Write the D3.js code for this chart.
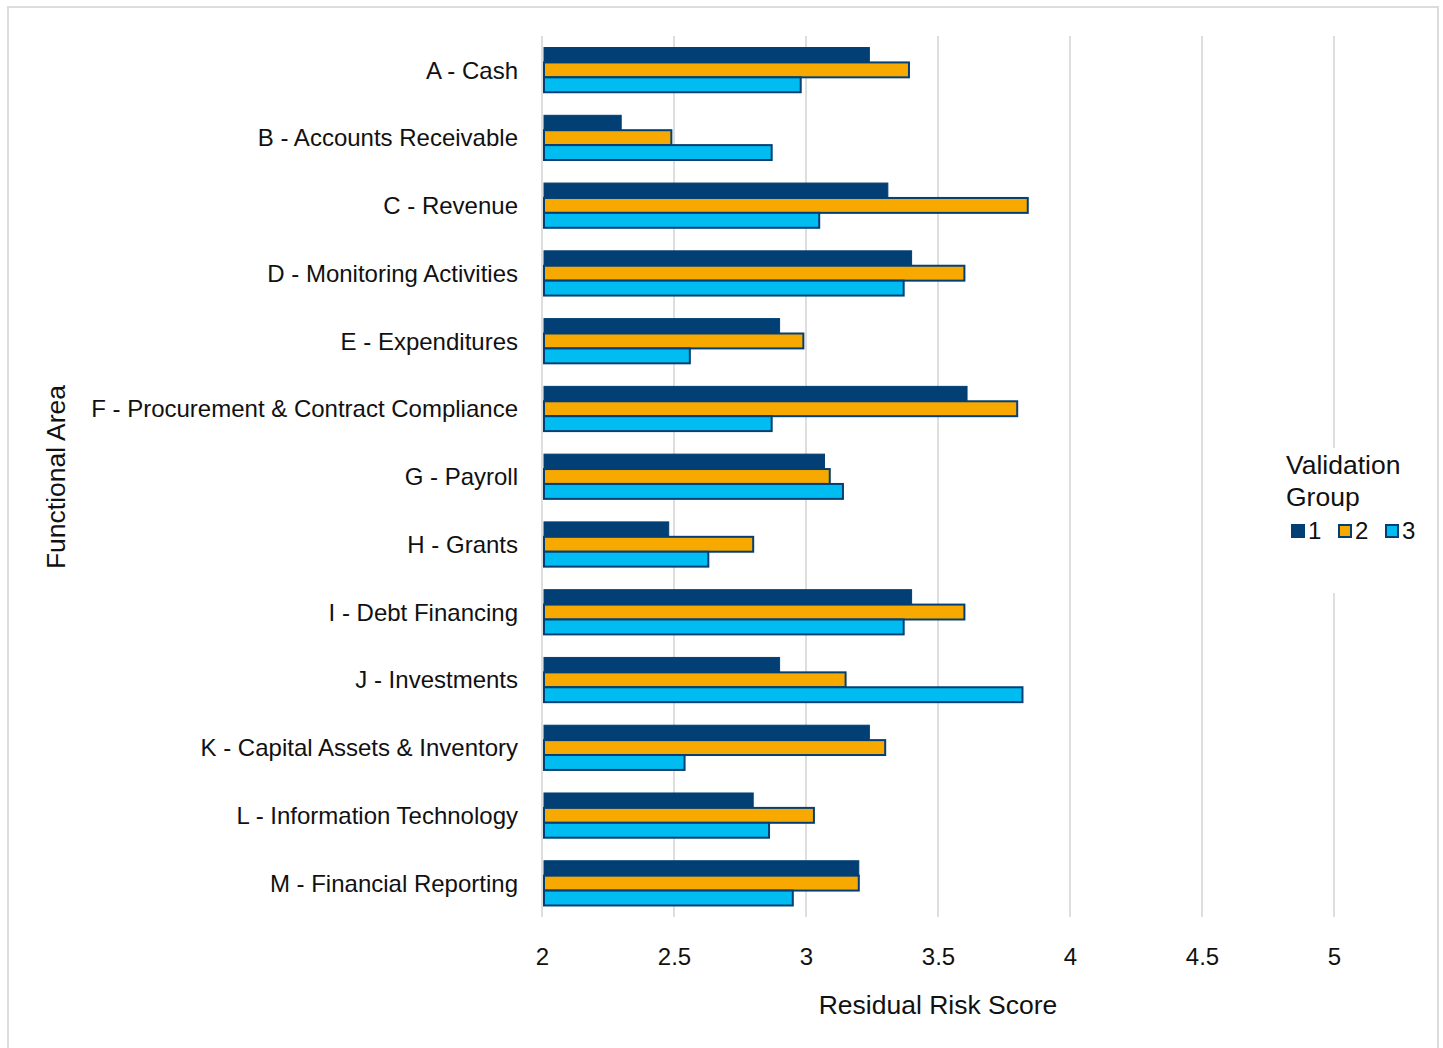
<!DOCTYPE html>
<html>
<head>
<meta charset="utf-8">
<script src="https://cdn.jsdelivr.net/npm/d3@7"></script>
<style>
  html, body { margin: 0; padding: 0; background: #fff; }
  svg { display: block; font-family: "Liberation Sans", Arial, sans-serif; }
</style>
</head>
<body>
<svg id="chart" width="1443" height="1048"></svg>
<script>
// Functional areas, top to bottom
const categories = [
  "A - Cash",
  "B - Accounts Receivable",
  "C - Revenue",
  "D - Monitoring Activities",
  "E - Expenditures",
  "F - Procurement & Contract Compliance",
  "G - Payroll",
  "H - Grants",
  "I - Debt Financing",
  "J - Investments",
  "K - Capital Assets & Inventory",
  "L - Information Technology",
  "M - Financial Reporting"
];

// Residual risk score per validation group
const group1 = [3.24, 2.30, 3.31, 3.40, 2.90, 3.61, 3.07, 2.48, 3.40, 2.90, 3.24, 2.80, 3.20];
const group2 = [3.39, 2.49, 3.84, 3.60, 2.99, 3.80, 3.09, 2.80, 3.60, 3.15, 3.30, 3.03, 3.20];
const group3 = [2.98, 2.87, 3.05, 3.37, 2.56, 2.87, 3.14, 2.63, 3.37, 3.82, 2.54, 2.86, 2.95];

const groupNames = ["1", "2", "3"];
const xTicks = [2, 2.5, 3, 3.5, 4, 4.5, 5];

const colors = { "1": "#023f74", "2": "#f8a900", "3": "#00bcf1" };
const outline = "#023f74";

const series = groupNames.map((g, i) => ({
  key: g,
  values: [group1, group2, group3][i]
}));

const svg = d3.select("#chart");

// Outer frame
svg.append("rect")
  .attr("x", 8).attr("y", 7)
  .attr("width", 1430).attr("height", 1050)
  .attr("fill", "#fff")
  .attr("stroke", "#dcdcdc")
  .attr("stroke-width", 2);

const plot = { left: 542, right: 1334, top: 36, bottom: 917 };

const x = d3.scaleLinear().domain([2, 5]).range([plot.left, plot.right]);
const y = d3.scaleBand().domain(categories)
  .range([plot.top, plot.bottom])
  .paddingInner(0.34).paddingOuter(0.17);
const yInner = d3.scaleBand().domain(groupNames).range([0, y.bandwidth()]);

// Vertical gridlines
svg.append("g")
  .selectAll("line")
  .data(xTicks)
  .join("line")
  .attr("x1", d => x(d)).attr("x2", d => x(d))
  .attr("y1", plot.top).attr("y2", plot.bottom)
  .attr("stroke", "#dedede")
  .attr("stroke-width", 2);

// Bars
const barsG = svg.append("g");
series.forEach(s => {
  barsG.append("g")
    .selectAll("rect")
    .data(s.values.map((v, i) => ({ cat: categories[i], v })))
    .join("rect")
    .attr("x", x(2) + 2)
    .attr("y", d => y(d.cat) + yInner(s.key))
    .attr("width", d => x(d.v) - x(2) - 2)
    .attr("height", yInner.bandwidth())
    .attr("fill", colors[s.key])
    .attr("stroke", outline)
    .attr("stroke-width", s.key === "1" ? 1 : 2);
});

const fontFamily = "'Liberation Sans', Arial, sans-serif";

// X axis tick labels
const xAxis = d3.axisBottom(x).tickValues(xTicks).tickSize(0).tickPadding(0)
  .tickFormat(d3.format("~g"));
const xg = svg.append("g")
  .attr("transform", `translate(0, ${957})`)
  .call(xAxis);
xg.select(".domain").remove();
xg.selectAll("text")
  .attr("dy", "0.35em")
  .attr("font-size", 24)
  .attr("fill", "#111")
  .style("font-family", fontFamily);

// Y axis category labels
const yAxis = d3.axisLeft(y).tickSize(0).tickPadding(0);
const yg = svg.append("g")
  .attr("transform", `translate(${518}, 1)`)
  .call(yAxis);
yg.select(".domain").remove();
yg.selectAll("text")
  .attr("font-size", 24)
  .attr("fill", "#111")
  .style("font-family", fontFamily);

// Axis titles
svg.append("text")
  .attr("x", 938).attr("y", 1007)
  .attr("text-anchor", "middle")
  .attr("dominant-baseline", "middle")
  .attr("font-size", 26.5)
  .attr("fill", "#111")
  .text("Residual Risk Score");

svg.append("text")
  .attr("transform", `translate(58, 477) rotate(-90)`)
  .attr("text-anchor", "middle")
  .attr("dominant-baseline", "middle")
  .attr("font-size", 26.5)
  .attr("fill", "#111")
  .text("Functional Area");

// Legend
const legend = svg.append("g");
legend.append("rect")
  .attr("x", 1278).attr("y", 448)
  .attr("width", 145).attr("height", 145)
  .attr("fill", "#fff");

legend.append("text")
  .attr("x", 1286).attr("y", 467)
  .attr("dominant-baseline", "middle")
  .attr("font-size", 26.5)
  .attr("fill", "#111")
  .text("Validation");
legend.append("text")
  .attr("x", 1286).attr("y", 499)
  .attr("dominant-baseline", "middle")
  .attr("font-size", 26.5)
  .attr("fill", "#111")
  .text("Group");

const legendX = d3.scalePoint().domain(groupNames).range([1292, 1386]);
const items = legend.selectAll("g.item")
  .data(groupNames)
  .join("g")
  .attr("class", "item")
  .attr("transform", d => `translate(${legendX(d)}, 531)`);
items.append("rect")
  .attr("x", 0).attr("y", -6)
  .attr("width", 12).attr("height", 12)
  .attr("fill", d => colors[d])
  .attr("stroke", outline)
  .attr("stroke-width", 2);
items.append("text")
  .attr("x", 16).attr("y", 2)
  .attr("dominant-baseline", "middle")
  .attr("font-size", 24)
  .attr("fill", "#111")
  .text(d => d);
</script>
</body>
</html>
